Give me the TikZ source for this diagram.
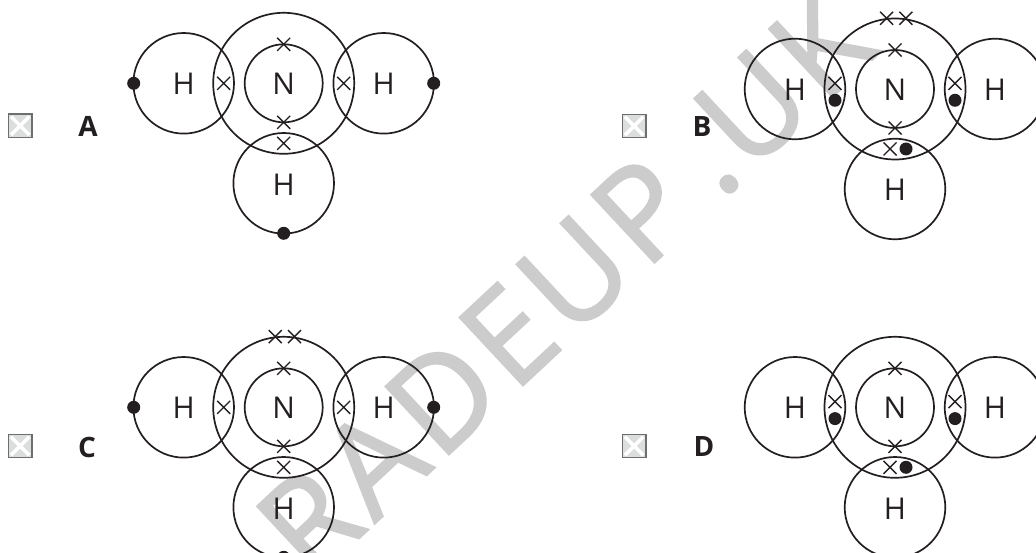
\documentclass[tikz,border=0pt]{standalone}
\usepackage{fontspec}
\setmainfont{Open Sans}
\newfontfamily\wmfont[FakeBold=1.6,LetterSpace=5]{Open Sans}
\usetikzlibrary{shapes.misc}
\definecolor{ink}{HTML}{231F20}
\definecolor{wm}{HTML}{CCCCCC}
\definecolor{boxfill}{HTML}{DCDDDD}
\definecolor{boxline}{HTML}{6D6E70}
\tikzset{
  shell/.style={draw=ink,line width=1.7pt},
  atomlabel/.style={text=ink,font=\fontsize{30}{30}\selectfont,inner sep=0pt},
  optlabel/.style={text=ink,font=\bfseries\fontsize{28}{28}\selectfont,inner sep=0pt},
  crossm/.style={cross out,draw=ink,line width=1.4pt,minimum size=13pt,inner sep=0pt,outer sep=0pt},
  dotm/.style={circle,fill=ink,minimum size=13pt,inner sep=0pt,outer sep=0pt},
  tickbox/.style={draw=boxline,fill=boxfill,line width=1.2pt,minimum size=23.5pt,inner sep=0pt},
  tickx/.style={cross out,draw=white,line width=3.5pt,minimum size=15pt,inner sep=0pt},
}
% #1 prefix, #2 cx, #3 cy
\newcommand{\molecule}[4]{%
  \begin{scope}[shift={(#2,#3)},name prefix=#1-]
    \draw[shell] (-100,0) circle (50.3pt);
    \draw[shell] (100,0) circle (50.3pt);
    \draw[shell] (0,#4) circle (50.3pt);
    \draw[shell] (0,0) circle (70.5pt);
    \draw[shell] (0,0) circle (39pt);
    \node[atomlabel] (N) at (0,0.5) {N};
    \node[atomlabel] (HL) at (-100,0.5) {H};
    \node[atomlabel] (HR) at (100,0.5) {H};
    \node[atomlabel] (HB) at (0,#4+1) {H};
    \node[crossm] (it) at (0,-39) {};
    \node[crossm] (ib) at (0,39) {};
  \end{scope}}
\newcommand{\ionicset}[3]{%
  \begin{scope}[shift={(#2,#3)},name prefix=#1-]
    \node[crossm] (bl) at (-60,0) {};
    \node[crossm] (br) at (60,0) {};
    \node[crossm] (bb) at (0,60) {};
  \end{scope}}
\newcommand{\sharedset}[3]{%
  \begin{scope}[shift={(#2,#3)},name prefix=#1-]
    \node[crossm] (bl) at (-60,-5.7) {};
    \node[dotm] (dl) at (-60,11.3) {};
    \node[crossm] (br) at (60,-5.7) {};
    \node[dotm] (dr) at (60,11.3) {};
    \node[crossm] (bb) at (-5,60) {};
    \node[dotm] (db) at (11,60) {};
  \end{scope}}
\newcommand{\outerdots}[3]{%
  \begin{scope}[shift={(#2,#3)},name prefix=#1-]
    \node[dotm] (ol) at (-150,0) {};
    \node[dotm] (or) at (150,0) {};
    \node[dotm] (ob) at (0,150) {};
  \end{scope}}
\newcommand{\lonepair}[3]{%
  \begin{scope}[shift={(#2,#3)},name prefix=#1-]
    \node[crossm] (la) at (-8.4,-70.7) {};
    \node[crossm] (lb) at (10.8,-70.7) {};
  \end{scope}}
\newcommand{\option}[4]{%
  \node[tickbox] (box#1) at (#2,#3) {};
  \node[tickx] (tick#1) at (#2,#3) {};
  \node[optlabel] (lab#1) at (#4,#3+1) {#1};}
\begin{document}
\begin{tikzpicture}[x=1pt,y=-1pt]
  \useasboundingbox (0,0) rectangle (1036,553);
  \clip (0,0) rectangle (1036,553);
  \fill[white] (0,0) rectangle (1036,553);
  \node[text=wm,font=\wmfont\fontsize{130}{130}\selectfont,rotate=43,anchor=base west,inner sep=0pt] (mark) at (311,583) {RADEUP\hspace{-15pt} .UK};
  \molecule{A}{283.7}{83.3}{100}
  \ionicset{A}{283.7}{83.3}
  \outerdots{A}{283.7}{83.3}
  \molecule{B}{895}{89}{100}
  \sharedset{B}{895}{89}
  \lonepair{B}{895}{89}
  \molecule{C}{283.7}{407.3}{100}
  \ionicset{C}{283.7}{407.3}
  \outerdots{C}{283.7}{407.3}
  \lonepair{C}{283.7}{407.3}
  \molecule{D}{895}{407.3}{100}
  \sharedset{D}{895}{407.3}
  \option{A}{20.2}{125.7}{88}
  \option{B}{634.2}{126}{702}
  \option{C}{20.2}{446}{87}
  \option{D}{634.2}{446}{704}
\end{tikzpicture}
\end{document}
